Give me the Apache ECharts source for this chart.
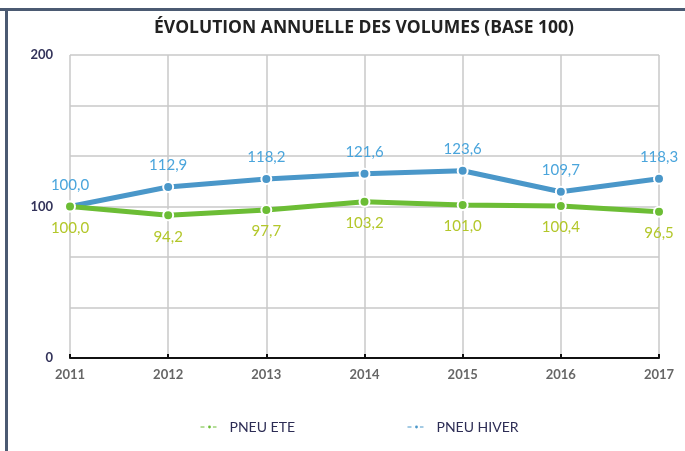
<!DOCTYPE html>
<html>
<head>
<meta charset="utf-8">
<script src="https://cdn.jsdelivr.net/npm/echarts@6/dist/echarts.min.js"></script>
<style>
html,body{margin:0;padding:0;background:#fff;}
#c{width:685px;height:451px;}
</style>
</head>
<body>
<div id="c"></div>
<script>
const years = ['2011','2012','2013','2014','2015','2016','2017'];
const pneuEte = [100.0, 94.2, 97.7, 103.2, 101.0, 100.4, 96.5];
const pneuHiver = [100.0, 112.9, 118.2, 121.6, 123.6, 109.7, 118.3];
const yLabels = [0, 100, 200];

const fmt = p => p.value.toFixed(1).replace('.', ',');
const chart = echarts.init(document.getElementById('c'));
chart.setOption({
  animation: false,
  backgroundColor: '#fff',
  graphic: [
    {type:'rect', shape:{x:0, y:8, width:685, height:3}, style:{fill:'#4b5a72'}, z:10},
    {type:'rect', shape:{x:5, y:8, width:3, height:451}, style:{fill:'#4b5a72'}, z:10}
  ],
  title: {
    text: 'ÉVOLUTION ANNUELLE DES VOLUMES (BASE 100)',
    left: 359, top: 14, textAlign: 'center',
    textStyle: {fontFamily: 'Open Sans', fontWeight: 'bold', fontSize: 17.5, color: '#222'}
  },
  legend: {
    bottom: 12, left: 195,
    itemGap: 112, itemWidth: 18, itemHeight: 6,
    lineStyle: {type: 'dashed', width: 1},
    textStyle: {fontFamily: 'Lato', fontSize: 14, color: '#2d2d55', padding: [0,0,0,6]},
    data: ['PNEU ETE', 'PNEU HIVER']
  },
  grid: {left: 70, right: 26, top: 55, bottom: 93},
  xAxis: {
    type: 'category', data: years, boundaryGap: false,
    axisLine: {lineStyle: {color: '#111', width: 2}},
    axisTick: {inside: true, length: 4, lineStyle: {color: '#111', width: 2}},
    axisLabel: {fontFamily: 'Lato', fontWeight: 'bold', fontSize: 13, color: '#666', margin: 10},
    splitLine: {show: true, lineStyle: {color: '#c8c8c8', width: 1.5}}
  },
  yAxis: {
    type: 'value', min: 0, max: 200, interval: 200/6,
    axisLine: {show: false}, axisTick: {show: false},
    axisLabel: {
      fontFamily: 'Lato', fontWeight: 'bold', fontSize: 13, color: '#33335a', margin: 17,
      formatter: v => {
        const r = Math.round(v);
        return yLabels.indexOf(r) >= 0 && Math.abs(v - r) < 0.01 ? String(r) : '';
      }
    },
    splitLine: {lineStyle: {color: '#c8c8c8', width: 1.5}}
  },
  series: [
    {
      name: 'PNEU HIVER', type: 'line', data: pneuHiver, z: 2,
      color: '#4a97c9',
      lineStyle: {width: 5, color: '#4a97c9'},
      symbol: 'circle', symbolSize: 10,
      itemStyle: {color: '#4a97c9', borderColor: '#fff', borderWidth: 2},
      label: {show: true, position: 'top', distance: 8, formatter: fmt,
        fontFamily: 'Lato', fontSize: 15, color: '#4aa5dc'}
    },
    {
      name: 'PNEU ETE', type: 'line', data: pneuEte, z: 3,
      color: '#6cbd35',
      lineStyle: {width: 5, color: '#6cbd35'},
      symbol: 'circle', symbolSize: 10,
      itemStyle: {color: '#6cbd35', borderColor: '#fff', borderWidth: 2},
      label: {show: true, position: 'bottom', distance: 8, formatter: fmt,
        fontFamily: 'Lato', fontSize: 15, color: '#b3c72a'}
    }
  ]
});
</script>
</body>
</html>
